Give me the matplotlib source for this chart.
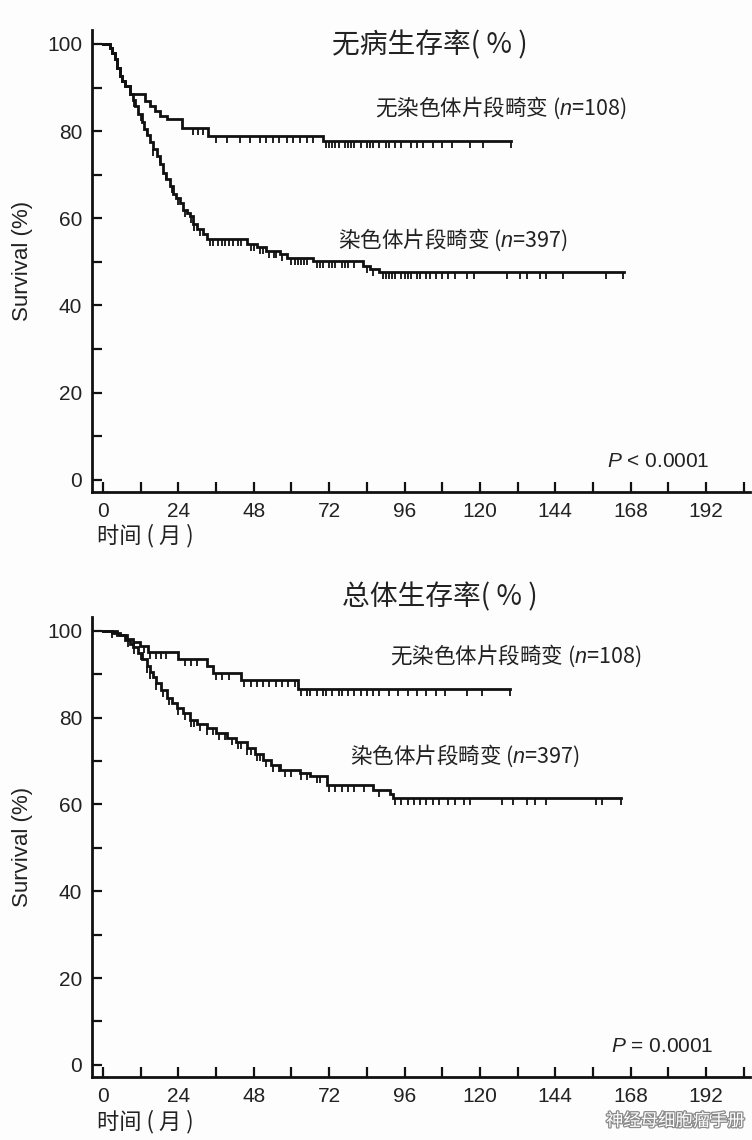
import numpy as np
import matplotlib
matplotlib.use("Agg")
import matplotlib.pyplot as plt
import matplotlib.patheffects as pe

plt.rcParams['font.family'] = ['Noto Sans CJK SC', 'DejaVu Sans']
plt.rcParams['mathtext.fontset'] = 'custom'
plt.rcParams['mathtext.rm'] = 'Liberation Sans'
plt.rcParams['mathtext.it'] = 'Liberation Sans:italic'

# ---- data (months, survival %) ----
# disease free survival, no segmental aberration (n=108)
dfs_no_t = [0, 2.2, 3, 3.8, 4.6, 5.4, 6.2, 7, 8.6, 13.4, 15, 16.5, 18.1, 20.3, 25, 33.5, 70, 130]
dfs_no_s = [100, 99, 98, 96.5, 94.5, 92.7, 91.5, 90.4, 88.5, 87, 85.8, 84.7, 83.5, 82.8, 80.8, 78.9, 77.8, 77.8]
dfs_no_cens = [28.8, 30.4, 32, 36, 39.5, 43.6, 46.8, 50, 52, 54, 56, 58.5, 60.5, 62.7, 65, 66.8,
               71, 72, 73, 74, 75, 77, 78, 79, 80, 82, 84, 85, 86, 88, 90, 91, 93, 95, 98, 100, 102,
               105, 108, 111, 117, 121, 130]

# disease free survival, segmental aberration (n=397)
dfs_yes_t = [0, 2.2, 3, 3.8, 4.6, 5.4, 6.2, 7, 8.6, 9.4, 10.2, 11.2, 12.3, 13.2, 14.1, 15, 16, 17.1,
             18.1, 19.2, 20.2, 21.3, 22.4, 23.4, 24.5, 25.6, 26.6, 27.7, 28.8, 30, 31.8, 33, 45.7, 49,
             52, 56.3, 58.5, 67, 82.8, 85, 88, 166]
dfs_yes_s = [100, 99, 98, 96.5, 94.5, 92.7, 91.5, 90.4, 88.5, 87.2, 85.8, 84, 82, 80.5, 79, 77.4, 75.8,
             74.3, 72.4, 70.5, 69, 67.4, 65.6, 64.6, 63.6, 62, 61.2, 60.5, 58.8, 57.5, 56.3, 55.3, 54,
             53.3, 52.5, 51.7, 51, 50.1, 49, 48.3, 47.7, 47.7]
dfs_yes_cens = [10, 12, 14, 16, 18, 20, 22, 24, 26, 28, 29, 31, 34, 35, 36.5, 38, 39, 40, 41.5, 43,
                44, 47, 48, 50, 51, 53, 54.5, 55, 57, 60, 61, 62, 63, 64, 65, 68, 69, 70, 72, 73, 74,
                76, 77, 78, 80, 84, 86, 89, 90, 91, 92, 93, 95, 96, 97, 98, 100, 101, 103, 104, 106,
                108, 110, 112, 116, 118, 128.6, 132.7, 135, 139, 141, 146.4, 160, 165.5]

# overall survival, no segmental aberration (n=108)
os_no_t = [0, 4.4, 7.5, 9.5, 11.8, 14.3, 23.9, 33, 35, 44, 62, 129.5]
os_no_s = [100, 99, 98.2, 97.5, 96.5, 95.2, 93.6, 92.0, 90.4, 88.6, 86.7, 86.7]
os_no_cens = [3, 10, 13, 15, 17, 18.5, 20, 26, 28, 30, 36, 38, 40, 45, 47, 49, 51, 53, 55, 57, 59,
              61, 63, 65, 66, 68, 70, 71, 73, 75, 76, 78, 80, 82, 84, 86, 88, 91, 94, 97, 100, 103,
              106, 109, 116, 120.6, 129.5]

# overall survival, segmental aberration (n=397)
os_yes_t = [0, 3, 5.4, 7, 8.5, 9.6, 11, 12.5, 13.9, 15, 16, 17, 18.5, 20.3, 22, 23.5, 25.5, 27.7, 30,
            33, 36, 39.4, 42.5, 45.7, 48.5, 51, 53.5, 56.3, 62.7, 66, 71.2, 86, 91.3, 92.3, 165]
os_yes_s = [100, 99.5, 99, 98, 97, 96.4, 95, 93.5, 91.8, 90.5, 89.3, 88, 86.3, 84.6, 83.4, 82.3, 81,
            79.5, 78.5, 77.7, 76.5, 75.4, 74.3, 73.1, 71.7, 70.3, 69.2, 68, 67.3, 66.5, 64.6, 63.4,
            62.3, 61.5, 61.5]
os_yes_cens = [8, 10, 12, 14, 15, 17, 19, 21, 24, 26, 28, 29, 31, 33, 35, 37, 39, 41, 43, 44, 46,
               47, 49, 50, 52, 54, 56, 58, 60, 63, 65, 68, 69, 72, 74, 76, 78, 80, 83, 88, 93, 95,
               97, 99, 101, 103, 105, 107, 110, 112, 115, 117, 127, 130.5, 135, 137.5, 141, 157,
               159, 165]

label_no = '无染色体片段畸变 ($n$=108)'
label_yes = '染色体片段畸变 ($n$=397)'
W, H = 752, 1140
latin = ['Liberation Sans', 'DejaVu Sans']


def fx(x):
    return x / W


def fy(y):
    return 1 - y / H


def km(ax, t, s, cens):
    t = np.asarray(t)
    s = np.asarray(s)
    ax.step(t, s, where='post', color='#111111', lw=2.0, solid_joinstyle='miter')
    c = np.asarray(cens)
    idx = np.searchsorted(t, c, side='right') - 1
    ax.plot(c, s[idx], ls='none', marker=3, ms=5, mew=1.3, color='#111111')


def style(ax):
    ax.set_xlim(-3.5, 206)
    ax.set_ylim(-2.8, 103.2)
    for side in ['top', 'right']:
        ax.spines[side].set_visible(False)
    for side in ['left', 'bottom']:
        ax.spines[side].set_linewidth(2.0)
        ax.spines[side].set_color('#111111')
    ax.set_xticks(np.arange(0, 193, 24))
    ax.set_xticks(np.arange(12, 205, 24), minor=True)
    ax.set_yticks(np.arange(0, 101, 20))
    ax.set_yticks(np.arange(10, 100, 20), minor=True)
    ax.tick_params(which='both', direction='in', length=7, width=1.6, color='#111111')
    ax.tick_params(axis='both', labelsize=15, pad=7, labelcolor='#222222')
    for lab in ax.get_xticklabels() + ax.get_yticklabels():
        lab.set_family(latin)
    ax.set_ylabel('Survival (%)', family=latin, fontsize=16, labelpad=10, color='#222222')
    ax.patch.set_alpha(0)


fig = plt.figure(figsize=(W / 100, H / 100), dpi=100, facecolor='#fdfdfd')

ax1 = fig.add_axes([fx(92), fy(492), fx(750 - 92), (492 - 30) / H])
km(ax1, dfs_no_t, dfs_no_s, dfs_no_cens)
km(ax1, dfs_yes_t, dfs_yes_s, dfs_yes_cens)
style(ax1)

ax2 = fig.add_axes([fx(92), fy(1077), fx(750 - 92), (1077 - 617) / H])
km(ax2, os_no_t, os_no_s, os_no_cens)
km(ax2, os_yes_t, os_yes_s, os_yes_cens)
style(ax2)

# titles and labels
fig.text(fx(430), fy(45), '无病生存率( % )', ha='center', va='center', fontsize=20, color='#222222')
fig.text(fx(375), fy(108), label_no, ha='left', va='center', fontsize=15.5, color='#222222')
fig.text(fx(338), fy(240), label_yes, ha='left', va='center', fontsize=15.5, color='#222222')
fig.text(fx(710), fy(462), '$P$ < 0.0001', ha='right', va='center', fontsize=15, family=latin,
         color='#222222')
fig.text(fx(97), fy(536), '时间 ( 月 )', ha='left', va='center', fontsize=16, color='#222222')

fig.text(fx(440), fy(597), '总体生存率( % )', ha='center', va='center', fontsize=20, color='#222222')
fig.text(fx(390), fy(656), label_no, ha='left', va='center', fontsize=15.5, color='#222222')
fig.text(fx(350), fy(756), label_yes, ha='left', va='center', fontsize=15.5, color='#222222')
fig.text(fx(714), fy(1046), '$P$ = 0.0001', ha='right', va='center', fontsize=15, family=latin,
         color='#222222')
fig.text(fx(97), fy(1122), '时间 ( 月 )', ha='left', va='center', fontsize=16, color='#222222')

# watermark
fig.text(fx(745), fy(1121), '神经母细胞瘤手册', ha='right', va='center', fontsize=12.5, color='white',
         path_effects=[pe.withStroke(linewidth=1.8, foreground='#8a8a8a')])

fig.savefig('out.png', dpi=100, facecolor=fig.get_facecolor())
